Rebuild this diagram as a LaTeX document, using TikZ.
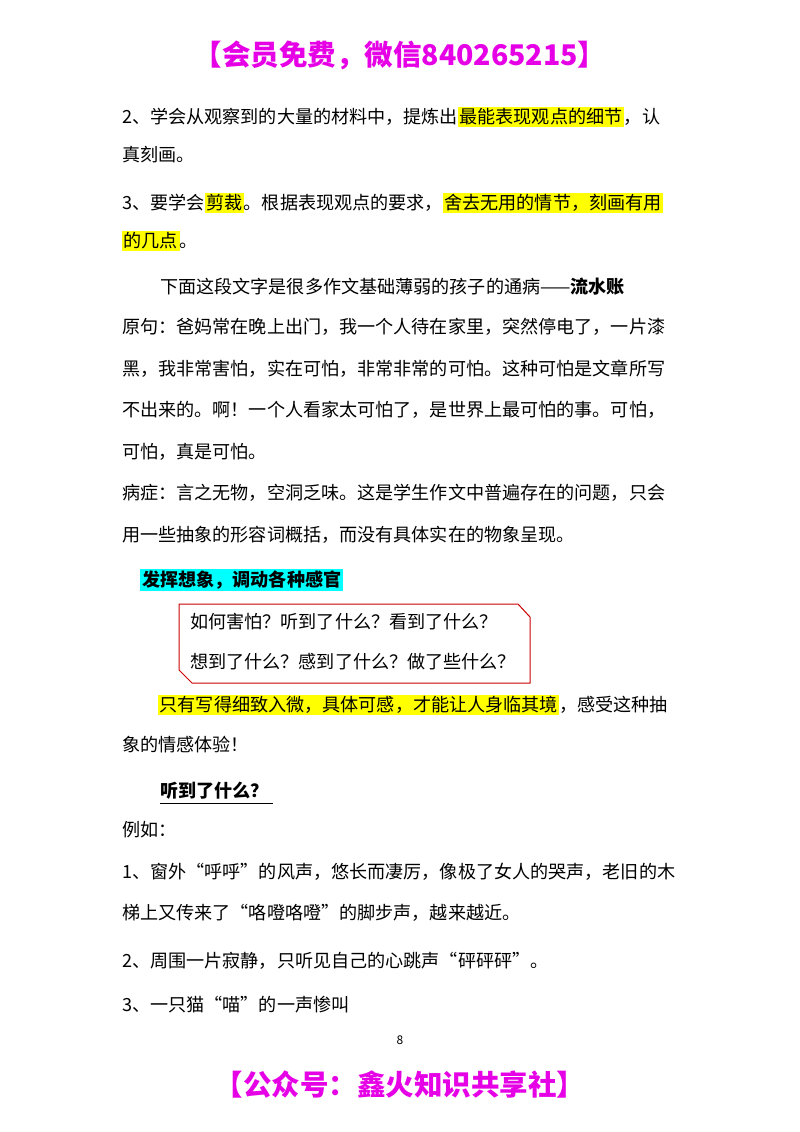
\documentclass[tikz,border=0pt]{standalone}
\usepackage{fontspec}
\setmainfont{Noto Sans CJK SC}
\definecolor{mag}{RGB}{230,0,230}
\definecolor{hly}{RGB}{255,255,0}
\definecolor{hlc}{RGB}{0,255,255}
\newcommand{\hly}[1]{{\setlength{\fboxsep}{1.5pt}\colorbox{hly}{#1}}}
\begin{document}
\begin{tikzpicture}[x=1pt,y=-1pt,
  ln/.style={anchor=west,inner sep=0pt,font=\fontsize{18.1}{21}\selectfont},
  big/.style={font=\fontsize{28.5}{32}\selectfont\bfseries,text=mag,inner sep=0pt}]
\useasboundingbox (0,0) rectangle (800,1132);
\fill[white] (0,0) rectangle (800,1132);
\node[big] (t) at (400,55) {【会员免费，微信840265215】};
\node[ln] (l1) at (122,117) {2、学会从观察到的大量的材料中，提炼出\hly{最能表现观点的细节}，认};
\node[ln] (l2) at (122,155) {真刻画。};
\node[ln] (l3) at (122,203) {3、要学会\hly{剪裁}。根据表现观点的要求，\hly{舍去无用的情节，刻画有用}};
\node[ln] (l4) at (122,241) {\hly{的几点}。};
\node[ln] (l5) at (160,287) {下面这段文字是很多作文基础薄弱的孩子的通病——\textbf{流水账}};
\node[ln] (l6) at (122,327) {原句：爸妈常在晚上出门，我一个人待在家里，突然停电了，一片漆};
\node[ln] (l7) at (122,369) {黑，我非常害怕，实在可怕，非常非常的可怕。这种可怕是文章所写};
\node[ln] (l8) at (122,410) {不出来的。啊！一个人看家太可怕了，是世界上最可怕的事。可怕，};
\node[ln] (l9) at (122,452) {可怕，真是可怕。};
\node[ln] (l10) at (122,493) {病症：言之无物，空洞乏味。这是学生作文中普遍存在的问题，只会};
\node[ln] (l11) at (122,535) {用一些抽象的形容词概括，而没有具体实在的物象呈现。};
\node[ln,fill=hlc,inner sep=2pt] (l12) at (140,580) {\textbf{发挥想象，调动各种感官}};
\draw[red!80!black,line width=1pt] (179,604) -- (518,604) -- (530,617) -- (530,683) -- (192,683) -- (179,670) -- cycle;
\node[ln] (b1) at (190,622) {如何害怕？听到了什么？看到了什么？};
\node[ln] (b2) at (190,662) {想到了什么？感到了什么？做了些什么？};
\node[ln] (l13) at (158,705) {\hly{只有写得细致入微，具体可感，才能让人身临其境}，感受这种抽};
\node[ln] (l14) at (122,745) {象的情感体验！};
\node[ln] (l15) at (160,791) {\textbf{听到了什么？}};
\draw[line width=1pt] (l15.south west)++(0,4) -- ++(113,0);
\node[ln] (l16) at (122,830) {例如：};
\node[ln] (l17) at (122,872) {1、窗外“呼呼”的风声，悠长而凄厉，像极了女人的哭声，老旧的木};
\node[ln] (l18) at (122,913) {梯上又传来了“咯噔咯噔”的脚步声，越来越近。};
\node[ln] (l19) at (122,961) {2、周围一片寂静，只听见自己的心跳声“砰砰砰”。};
\node[ln] (l20) at (122,1005) {3、一只猫“喵”的一声惨叫};
\node[font=\fontsize{12}{14}\selectfont] (pg) at (400,1040) {8};
\node[big] (f) at (400,1085) {【公众号：鑫火知识共享社】};
\end{tikzpicture}
\end{document}
